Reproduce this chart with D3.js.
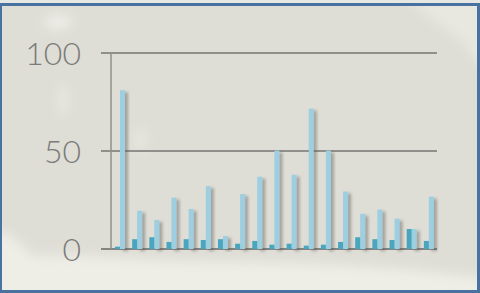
<!DOCTYPE html>
<html>
<head>
<meta charset="utf-8">
<script src="https://d3js.org/d3.v7.min.js"></script>
<style>
    body { margin: 0; background: #e7e7e3; }
    text.tick-label {
        font-family: "Lato", "DejaVu Sans", sans-serif;
        font-size: 32px;
        font-weight: 300;
        fill: #7b7b79;
    }
</style>
</head>
<body>
<div id="container"></div>
<script>
    // data
    const groups = d3.range(1, 20).map(String);
    const seriesA = [1.2, 5, 6, 3.6, 5, 4.6, 5, 2.7, 4.1, 2.2, 2.7, 1.7, 2.2, 3.6, 6, 5, 4.6, 10.2, 4.1];
    const seriesB = [81, 19.5, 14.8, 26.2, 20.4, 32.1, 6.6, 28, 36.9, 50.2, 37.9, 71.6, 50.2, 29.3, 17.9, 20.1, 15.5, 10.2, 26.7];
    const yTicks = [0, 50, 100];

    const W = 480, H = 293;
    const svg = d3.select("#container").append("svg")
        .attr("width", W).attr("height", H);

    const defs = svg.append("defs");
    defs.append("filter").attr("id", "blur")
        .attr("x", "-20%").attr("y", "-20%").attr("width", "140%").attr("height", "140%")
        .append("feGaussianBlur").attr("stdDeviation", 6);
    const sh = defs.append("filter").attr("id", "shadow")
        .attr("x", "-50%").attr("y", "-10%").attr("width", "250%").attr("height", "130%");
    sh.append("feDropShadow").attr("dx", 3).attr("dy", 2)
        .attr("stdDeviation", 1.8).attr("flood-color", "#5a5850").attr("flood-opacity", 0.45);
    defs.append("clipPath").attr("id", "inner")
        .append("rect").attr("x", 2).attr("y", 6).attr("width", W - 5).attr("height", H - 9);

    // frame + background
    svg.append("rect").attr("x", 0).attr("y", 3).attr("width", W).attr("height", H - 3).attr("fill", "#4a72a0");
    svg.append("rect").attr("x", 2).attr("y", 6).attr("width", W - 5).attr("height", H - 9).attr("fill", "#deddd6");

    const bg = svg.append("g").attr("clip-path", "url(#inner)")
        .append("g").attr("filter", "url(#blur)");
    // light area along the bottom-left
    bg.append("path")
        .attr("d", "M-10,258 C60,250 140,262 230,262 C320,262 400,268 490,278 L490,300 L-10,300 Z")
        .attr("fill", "#eeeee7");
    bg.append("path")
        .attr("d", "M-10,230 C15,232 25,250 40,262 L-10,262 Z").attr("fill", "#eeeee7");
    // light top-right corner
    bg.append("path")
        .attr("d", "M440,-5 C455,30 465,50 490,70 L490,-5 Z").attr("fill", "#eeede6");
    bg.append("path")
        .attr("d", "M400,-5 C430,15 450,35 490,60 L490,-5 Z").attr("fill", "#e8e7e0");
    // small light blotches
    bg.append("ellipse").attr("cx", 58).attr("cy", 22).attr("rx", 14).attr("ry", 6).attr("fill", "#f2f2ec");
    bg.append("ellipse").attr("cx", 63).attr("cy", 100).attr("rx", 4).attr("ry", 16).attr("fill", "#ebebe4");
    bg.append("ellipse").attr("cx", 140).attr("cy", 140).attr("rx", 5).attr("ry", 12).attr("fill", "#e9e9e2");

    // scales
    const x = d3.scaleBand().domain(groups).range([111, 437]).padding(0);
    const xs = d3.scaleBand().domain(["a", "b"]).range([4, 14]).padding(0);
    const y = d3.scaleLinear().domain([0, 100]).range([249, 53]);

    // gridlines
    svg.append("g")
        .selectAll("line").data(yTicks).join("line")
        .attr("x1", 101).attr("x2", 437)
        .attr("y1", d => y(d)).attr("y2", d => y(d))
        .attr("stroke", d => d === 0 ? "#858480" : "#918f8b")
        .attr("stroke-width", 2);
    // y axis line
    svg.append("line")
        .attr("x1", 111).attr("x2", 111).attr("y1", y(100)).attr("y2", y(0))
        .attr("stroke", "#918f8b").attr("stroke-width", 1.5);

    // tick labels
    svg.append("g").selectAll("text").data(yTicks).join("text")
        .attr("class", "tick-label")
        .attr("x", 81).attr("y", d => y(d))
        .attr("dy", "0.36em")
        .attr("text-anchor", "end")
        .text(d => d);

    // bars
    const g = svg.append("g").selectAll("g").data(groups).join("g")
        .attr("transform", d => `translate(${x(d)},0)`);
    g.append("rect")
        .attr("filter", "url(#shadow)")
        .attr("x", xs("b")).attr("width", xs.bandwidth())
        .attr("y", (d, i) => y(seriesB[i]))
        .attr("height", (d, i) => y(0) - y(seriesB[i]))
        .attr("fill", "#9ecfe0");
    g.append("rect")
        .attr("x", xs("a")).attr("width", xs.bandwidth())
        .attr("y", (d, i) => y(seriesA[i]))
        .attr("height", (d, i) => y(0) - y(seriesA[i]))
        .attr("fill", "#4aa6be");
</script>
</body>
</html>
